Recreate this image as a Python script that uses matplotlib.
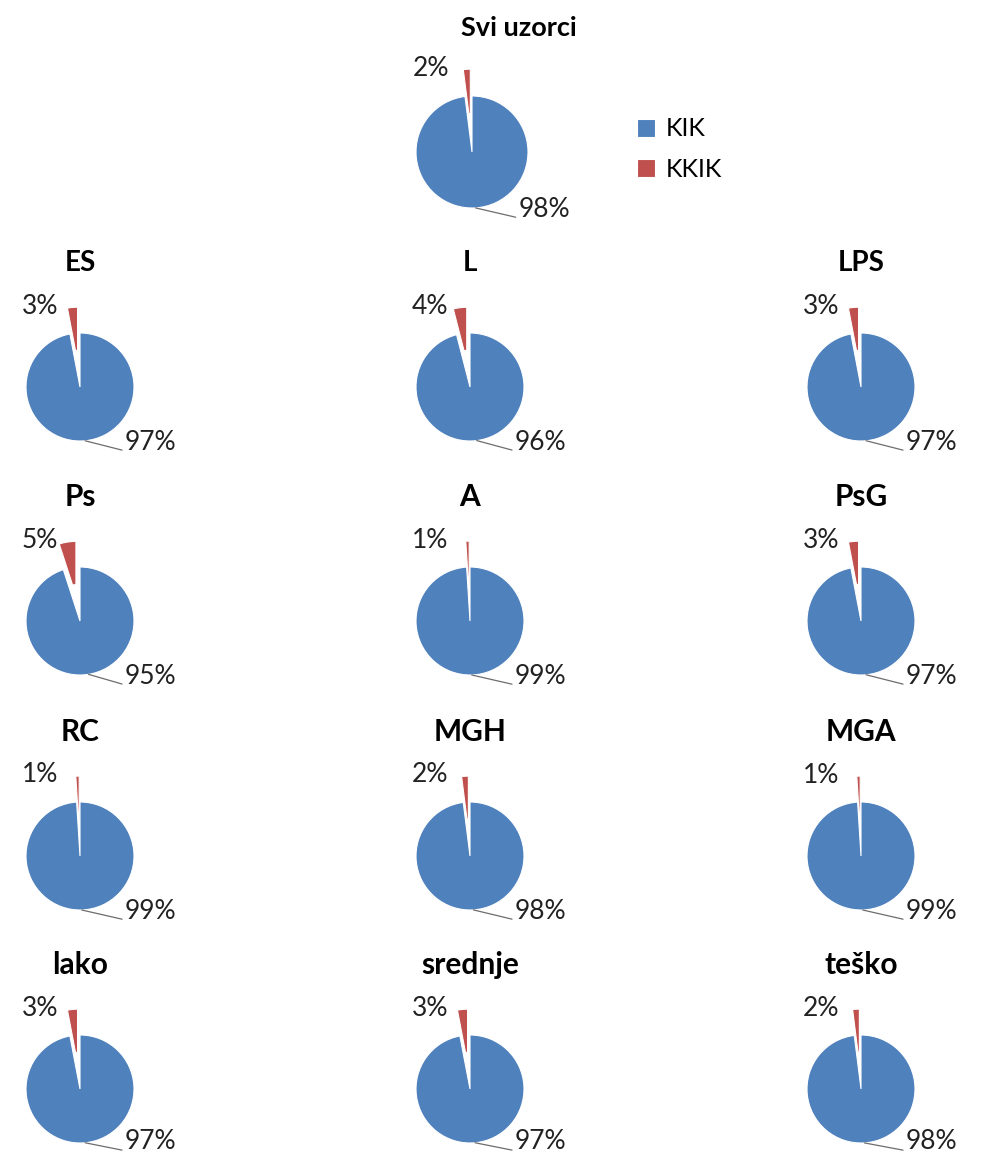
import numpy as np
import matplotlib
matplotlib.use("Agg")
import matplotlib.pyplot as plt

plt.rcParams['font.family'] = ['Lato', 'DejaVu Sans']

# data
series = ['KIK', 'KKIK']
titles = ['Svi uzorci', 'ES', 'L', 'LPS', 'Ps', 'A', 'PsG',
          'RC', 'MGH', 'MGA', 'lako', 'srednje', 'teško']
kik = [98, 97, 96, 97, 95, 99, 97, 99, 98, 99, 97, 97, 98]
kkik = [2, 3, 4, 3, 5, 1, 3, 1, 2, 1, 3, 3, 2]

colors = ['#4F81BD', '#C0504D']
W, H = 981, 1154

# pie centres in pixels (from top-left) and radius
cols_x = [80, 470, 861]
rows_y = [387, 621, 856, 1089]
centres = [(472, 152)] + [(x, y) for y in rows_y for x in cols_x]
radii = [56] + [54] * 12
title_size = [19.5] + [20] * 3 + [21.5] * 9

fig = plt.figure(figsize=(W / 100, H / 100), dpi=100)
L = 2.3
svi_wedges = None
for i, (cx, cy) in enumerate(centres):
    r = radii[i]
    ax = fig.add_axes([(cx - L * r) / W, 1 - (cy + L * r) / H, 2 * L * r / W, 2 * L * r / H])
    wedges, _ = ax.pie([kik[i], kkik[i]], colors=colors, startangle=90, counterclock=False,
                       explode=[0, 0.48], radius=1,
                       wedgeprops=dict(edgecolor='white', linewidth=0.8))
    wedges[1].set_width(0.8)
    ax.set_xlim(-L, L)
    ax.set_ylim(-L, L)
    ax.set_aspect('equal')
    ax.axis('off')
    if i == 0:
        svi_wedges = wedges

    # label for the big slice with a leader line
    w0 = wedges[0]
    mid = np.deg2rad((w0.theta1 + w0.theta2) / 2)
    ly = -0.98 if i >= 10 else -1.02
    ax.annotate(f'{kik[i]}%', xy=(np.cos(mid), np.sin(mid)), xytext=(0.83, ly),
                ha='left', va='center', fontsize=19, color='#222222',
                arrowprops=dict(arrowstyle='-', color='#6d6d6d', lw=0.9,
                                relpos=(0, 0.15), shrinkA=0, shrinkB=0))
    # label for the small slice
    ax.text(-0.4, 1.5, f'{kkik[i]}%', ha='right', va='center', fontsize=19, color='#222222')

    tx = 519 if i == 0 else cx
    fig.text(tx / W, 1 - (cy - 124) / H, titles[i], ha='center', va='center',
             fontsize=title_size[i], fontweight='bold', color='black')

fig.legend(svi_wedges, series, loc='upper left', bbox_to_anchor=(614 / W, 1 - 95 / H),
           frameon=False, fontsize=18, handlelength=0.75, handleheight=0.75,
           handletextpad=0.4, labelspacing=0.7)

fig.savefig('out.png', dpi=100, facecolor='white')
